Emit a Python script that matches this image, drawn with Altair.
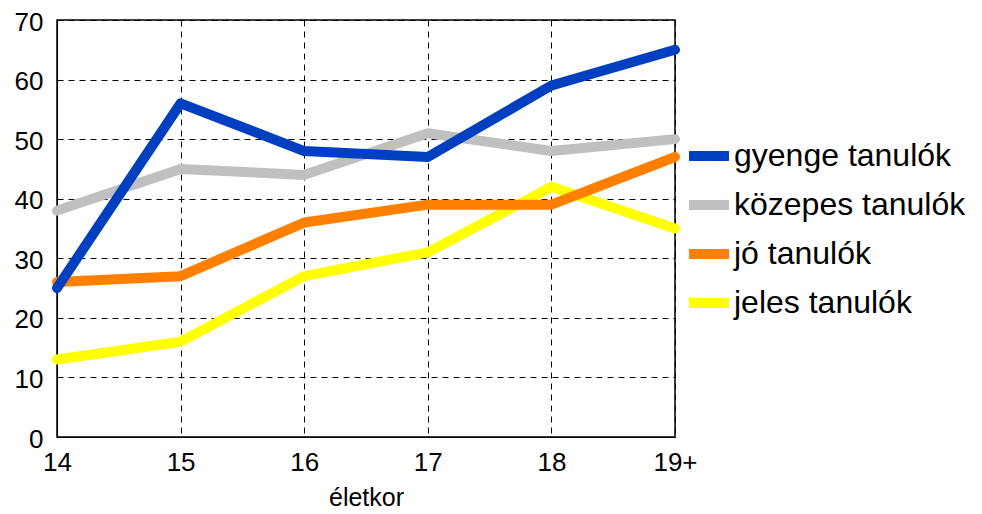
import altair as alt
import pandas as pd

ages = ["14", "15", "16", "17", "18", "19+"]
series_names = ["gyenge tanulók", "közepes tanulók", "jó tanulók", "jeles tanulók"]
gyenge = [25, 56, 48, 47, 59, 65]
kozepes = [38, 45, 44, 51, 48, 50]
jo = [26, 27, 36, 39, 39, 47]
jeles = [13, 16, 27, 31, 42, 35]
colors = ["#0040C0", "#C0C0C0", "#FF8000", "#FFFF00"]

rows = []
for name, vals in zip(series_names, [gyenge, kozepes, jo, jeles]):
    for a, v in zip(ages, vals):
        rows.append({"age": a, "value": v, "series": name})
df = pd.DataFrame(rows)

font = "Liberation Sans"

x_enc = alt.X("age:O", sort=ages, title="életkor",
              scale=alt.Scale(type="point", padding=0),
              axis=alt.Axis(labelAngle=0, labelFontSize=26, titleFontSize=25,
                            labelPadding=12, titlePadding=10, tickSize=0,
                            grid=True, gridDash=[6, 5], gridColor="black", gridOpacity=1,
                            domainColor="black", labelColor="black", titleColor="black",
                            titleFontWeight="normal", labelFont=font, titleFont=font))
y_enc = alt.Y("value:Q", title=None,
              scale=alt.Scale(domain=[0, 70]),
              axis=alt.Axis(values=[0, 10, 20, 30, 40, 50, 60, 70], labelFontSize=26,
                            labelPadding=14, tickSize=0, labelOffset=2,
                            grid=True, gridDash=[6, 5], gridColor="black", gridOpacity=1,
                            domainColor="black", labelColor="black", labelFont=font))
color_enc = alt.Color("series:N", sort=series_names,
                      scale=alt.Scale(domain=series_names, range=colors),
                      legend=alt.Legend(title=None, orient="none", legendX=627, legendY=111,
                                        symbolType="stroke", symbolSize=1600,
                                        symbolStrokeWidth=10, labelFontSize=32,
                                        labelFont=font, labelColor="black",
                                        rowPadding=4, labelOffset=0, labelLimit=400))

base = alt.Chart(df)
layers = []
for name in reversed(series_names):
    layers.append(
        base.transform_filter(alt.datum.series == name)
        .mark_line(strokeWidth=10, strokeCap="round", strokeJoin="round", clip=False)
        .encode(x=x_enc, y=y_enc, color=color_enc)
    )

chart = alt.layer(*layers).properties(
    width=618, height=417,
    autosize=alt.AutoSizeParams(type="none"),
    padding={"left": 49, "top": 12, "right": 298, "bottom": 72},
).configure_view(stroke="black", strokeWidth=1.5)

chart.save("out.html", embed_options={"renderer": "svg", "actions": False})
